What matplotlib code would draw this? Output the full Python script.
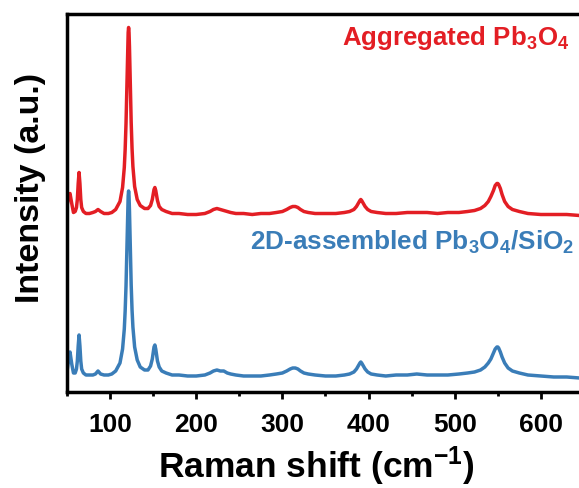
import numpy as np
import matplotlib.pyplot as plt

plt.rcParams['font.family'] = 'Liberation Sans'
plt.rcParams['font.weight'] = 'bold'
plt.rcParams['axes.labelweight'] = 'bold'
plt.rcParams['mathtext.fontset'] = 'custom'
plt.rcParams['mathtext.rm'] = 'Liberation Sans:bold'
plt.rcParams['mathtext.bf'] = 'Liberation Sans:bold'
plt.rcParams['mathtext.it'] = 'Liberation Sans:bold'

# Raman shift (cm-1), sampled off the figure
shift = [50, 51.5, 53.5, 55.5, 57.5, 59.5, 61, 62, 63, 64,
         65, 66, 67, 69, 72, 76, 80, 83, 86, 89,
         93, 98, 102, 106.5, 111.5, 114.5, 116.5, 117.5, 118.5, 119.5,
         120.5, 121, 121.5, 122, 122.5, 123.5, 124.5, 125.5, 126.5, 128.5,
         131.5, 135, 140, 144, 147, 149, 150, 151, 152, 153,
         154, 155, 157, 160, 165, 172, 180, 190, 200, 210,
         216, 220, 224, 228, 232, 236, 240, 246, 255, 265,
         275, 285, 293, 300, 305, 309, 312, 315, 318, 321,
         325, 330, 338, 350, 362, 372, 378, 383, 386, 388,
         390, 391, 392, 394, 396, 399, 403, 410, 420, 432,
         445, 456, 468, 480, 492, 505, 515, 523, 530, 535,
         539, 542, 545, 547, 549, 550, 551, 553, 555, 558,
         562, 567, 575, 585, 600, 615, 630, 645]

# 2D-assembled Pb3O4/SiO2
assembled = [4, 14, 24, 12, 3, 3, 7, 15, 30, 41,
             30, 15, 7, 3, 1, 1, 1, 2, 5, 2,
             1, 1, 2, 5, 13, 27, 47, 65, 90, 127,
             166, 180, 185, 180, 166, 127, 91, 66, 49, 29,
             16, 9, 6, 6, 10, 17, 23, 29, 31, 27,
             21, 15, 9, 5, 3, 1, 1, 0, 0, 1,
             3, 5, 6, 5, 5, 3, 2, 1, 0, 0,
             0, 1, 2, 3, 5, 7, 8, 8, 7, 5,
             3, 2, 1, 0, 0, 1, 2, 4, 7, 10,
             13, 14, 13, 10, 7, 4, 2, 1, 0, 1,
             1, 2, 1, 1, 1, 2, 3, 4, 6, 9,
             13, 17, 23, 27, 29, 29, 28, 24, 19, 13,
             8, 5, 3, 1, 0, -1, -1, -2]

# aggregated Pb3O4
aggregated = [7, 16, 20, 10, 1, 2, 6, 14, 30, 41,
              30, 14, 6, 2, 0, 0, 1, 2, 4, 2,
              0, 0, 1, 4, 12, 26, 46, 64, 90, 127,
              167, 181, 186, 181, 167, 127, 91, 65, 47, 27,
              14, 8, 5, 5, 8, 14, 19, 24, 26, 23,
              18, 13, 7, 4, 2, 0, 0, -1, -1, 0,
              2, 4, 5, 4, 3, 2, 1, 0, 0, -1,
              0, 0, 1, 2, 4, 6, 7, 7, 6, 4,
              2, 1, 0, 0, 0, 1, 2, 4, 7, 10,
              13, 14, 13, 10, 7, 4, 2, 1, 0, 0,
              1, 1, 1, 0, 1, 1, 2, 3, 5, 8,
              12, 17, 23, 28, 30, 30, 29, 25, 19, 12,
              7, 4, 2, 0, -1, -1, -1, -2]

offset = 162.5

red = '#E31E24'
blue = '#3A7DB8'

fig = plt.figure(figsize=(5.79, 4.88), dpi=100)
ax = fig.add_axes([67 / 579, 96 / 488, 560 / 579, 378 / 488])

ax.plot(shift, assembled, color=blue, lw=2.5)
ax.plot(shift, np.array(aggregated) + offset, color=red, lw=2.5)

ax.set_xlim(50, 700)
ax.set_ylim(-16, 362)
ax.set_xticks([100, 200, 300, 400, 500, 600])
ax.set_xticks([50, 150, 250, 350, 450, 550, 650], minor=True)
ax.set_yticks([])
ax.tick_params(axis='x', which='major', length=5, width=2, labelsize=19, pad=10)
ax.tick_params(axis='x', which='minor', length=3, width=2)
for s in ax.spines.values():
    s.set_linewidth(2.5)

ax.set_xlabel(r'Raman shift (cm$^{-1}$)', fontsize=25.5, fontweight='bold')
ax.xaxis.set_label_coords(0.446, -0.14)
ax.set_ylabel('Intensity (a.u.)', fontsize=24.5, fontweight='bold')
ax.yaxis.set_label_coords(-0.037, 0.54)

ax.text(633, 331, r'Aggregated Pb$_3$O$_4$', color=red, fontsize=18.6,
        ha='right', va='baseline')
ax.text(639, 126, r'2D-assembled Pb$_3$O$_4$/SiO$_2$', color=blue, fontsize=18.8,
        ha='right', va='baseline')

fig.savefig('out.png', dpi=100)
